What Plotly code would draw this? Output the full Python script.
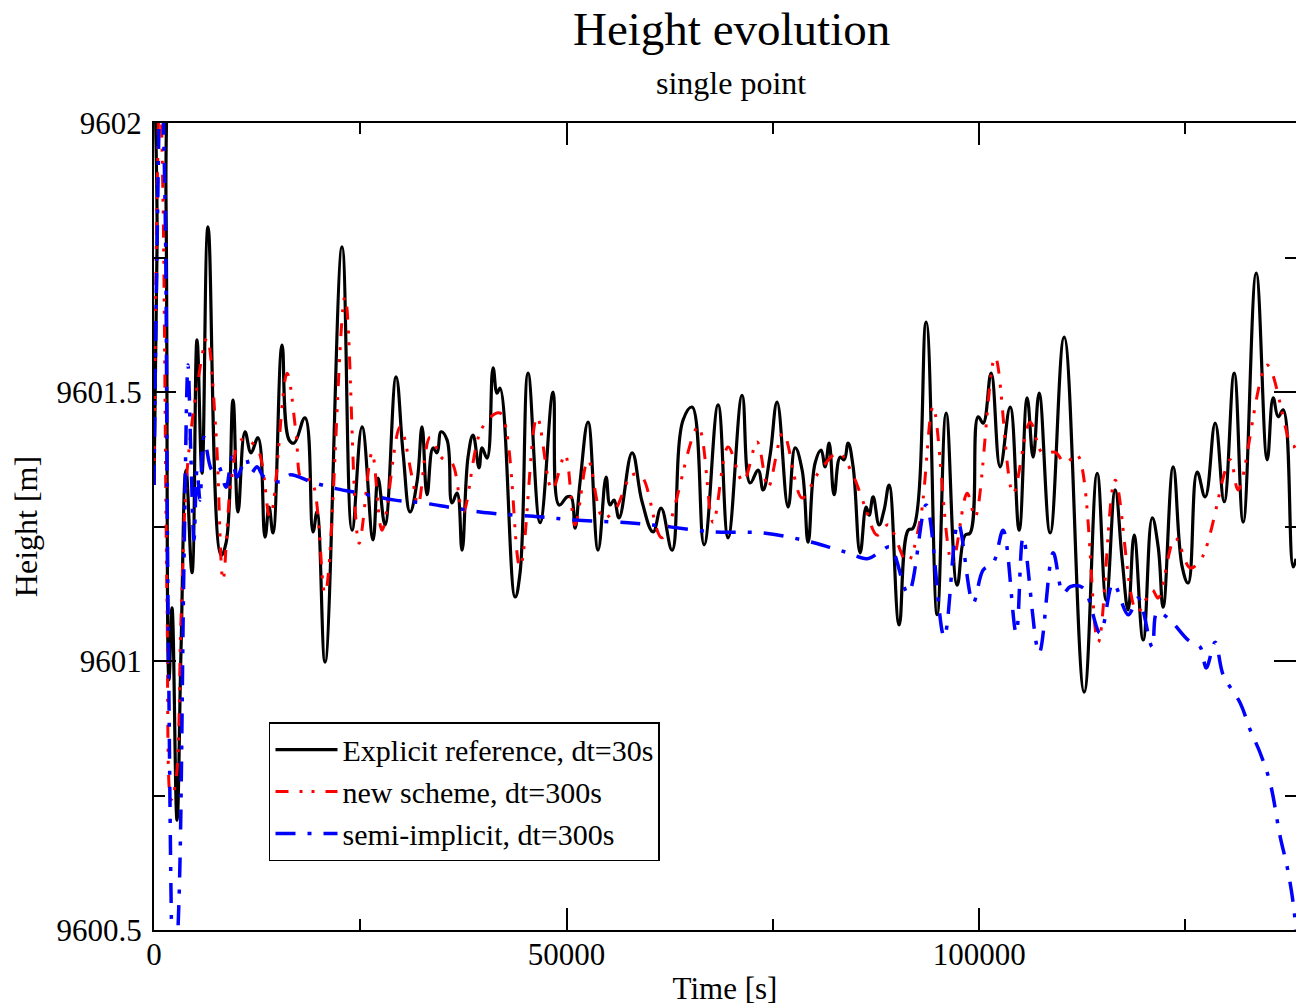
import plotly.graph_objects as go

# ---- data (time in s, height in m) ----
t_ref = [0, 364, 727, 1091, 1455, 1818, 2182, 2788, 3273, 3879, 4606, 5212, 5818, 6545, 8121, 8727, 9576, 10182,
         11030, 11757, 12606, 13454, 13939, 14424, 15515, 16363, 16969, 18303, 19272, 19757, 20727, 22788, 24000,
         25212, 26545, 27151, 28000, 29333, 30182, 31030, 31878, 32485, 33091, 33818, 34303, 34788, 35515, 36121,
         36727, 37333, 38060, 38667, 39394, 39757, 40363, 41091, 41576, 41939, 43757, 44363, 45333, 46788, 48363,
         49091, 50060, 50545, 51030, 51636, 52606, 53818, 54788, 55273, 55757, 56363, 57939, 59151, 60485, 61454,
         62788, 64121, 65212, 66667, 68363, 69576, 71273, 72242, 73212, 73818, 74667, 75515, 76848, 77697, 78545,
         79273, 80121, 80848, 81333, 81818, 82424, 83151, 83636, 84121, 84727, 85576, 86303, 86667, 87151, 87879,
         88485, 89091, 90303, 91394, 92000, 93576, 94909, 96000, 97333, 98303, 98909, 99879, 100485, 101454,
         102545, 103757, 104848, 105818, 106545, 107272, 108606, 110303, 112727, 114303, 115394, 116485, 117333,
         118060, 118788, 119879, 120970, 121697, 122303, 123515, 124606, 125333, 126424, 127394, 128606, 129697,
         130909, 132000, 133576, 134909, 135636, 136242, 136848, 138060, 138400]
h_ref = [9601.327, 9601.764, 9602.2, 9602.2, 9601.857, 9600.965, 9601.099, 9600.704, 9601.02, 9601.355, 9601.164,
         9601.597, 9601.349, 9601.807, 9601.197, 9601.219, 9601.485, 9601.277, 9601.426, 9601.387, 9601.415,
         9601.230, 9601.286, 9601.238, 9601.587, 9601.411, 9601.405, 9601.452, 9601.240, 9601.277, 9600.998,
         9601.770, 9601.243, 9601.435, 9601.225, 9601.340, 9601.253, 9601.528, 9601.387, 9601.277, 9601.333,
         9601.435, 9601.309, 9601.396, 9601.387, 9601.426, 9601.411, 9601.294, 9601.312, 9601.206, 9601.379,
         9601.420, 9601.359, 9601.396, 9601.377, 9601.545, 9601.498, 9601.507, 9601.119, 9601.164, 9601.535,
         9601.257, 9601.500, 9601.290, 9601.305, 9601.305, 9601.247, 9601.333, 9601.444, 9601.206, 9601.342,
         9601.290, 9601.299, 9601.266, 9601.387, 9601.296, 9601.240, 9601.284, 9601.206, 9601.448, 9601.472,
         9601.216, 9601.476, 9601.229, 9601.494, 9601.331, 9601.355, 9601.318, 9601.383, 9601.481, 9601.286,
         9601.396, 9601.355, 9601.221, 9601.368, 9601.392, 9601.361, 9601.405, 9601.309, 9601.379, 9601.374,
         9601.405, 9601.361, 9601.201, 9601.286, 9601.271, 9601.305, 9601.253, 9601.281, 9601.327, 9601.067,
         9601.243, 9601.247, 9601.630, 9601.086, 9601.461, 9601.141, 9601.234, 9601.238, 9601.454, 9601.442,
         9601.535, 9601.361, 9601.472, 9601.243, 9601.489, 9601.379, 9601.498, 9601.238, 9601.602, 9600.942,
         9601.349, 9601.113, 9601.318, 9601.188, 9601.095, 9601.234, 9601.039, 9601.266, 9601.212, 9601.100,
         9601.361, 9601.175, 9601.145, 9601.351, 9601.305, 9601.442, 9601.296, 9601.535, 9601.258, 9601.721,
         9601.374, 9601.489, 9601.454, 9601.467, 9601.175, 9601.19]

t_new = [0, 364, 727, 1091, 1576, 2061, 2667, 3273, 4000, 5212, 6424, 7515, 8364, 9333, 10545, 12485, 14060,
         16121, 17212, 17939, 19030, 20727, 23151, 24848, 26424, 27636, 29818, 31273, 32000, 33455, 34909, 36121,
         37454, 39757, 41939, 44363, 46424, 48242, 49818, 51030, 52606, 54424, 55879, 57939, 59151, 61576, 65939,
         67757, 69576, 71394, 73091, 74424, 76242, 78545, 80485, 82909, 84606, 86182, 87636, 88970, 91273, 92848,
         94424, 96727, 98545, 99515, 101939, 104121, 106181, 107636, 109212, 110424, 111879, 114424, 116485,
         119151, 120970, 121697, 123757, 125576, 127030, 130424, 131394, 134909, 137939, 138400]
h_new = [9601.327, 9601.857, 9602.080, 9601.857, 9601.113, 9600.742, 9600.779, 9601.076, 9601.351, 9601.509,
         9601.600, 9601.424, 9601.151, 9601.331, 9601.411, 9601.396, 9601.268, 9601.535, 9601.424, 9601.336,
         9601.336, 9601.126, 9601.677, 9601.219, 9601.387, 9601.243, 9601.435, 9601.342, 9601.290, 9601.416,
         9601.377, 9601.368, 9601.277, 9601.433, 9601.461, 9601.175, 9601.454, 9601.318, 9601.383, 9601.253,
         9601.374, 9601.266, 9601.281, 9601.346, 9601.342, 9601.229, 9601.435, 9601.258, 9601.398, 9601.333,
         9601.407, 9601.323, 9601.424, 9601.303, 9601.349, 9601.387, 9601.349, 9601.286, 9601.234, 9601.253,
         9601.184, 9601.262, 9601.472, 9601.182, 9601.312, 9601.268, 9601.565, 9601.312, 9601.444, 9601.387,
         9601.388, 9601.368, 9601.383, 9601.035, 9601.336, 9601.091, 9601.132, 9601.117, 9601.229, 9601.173,
         9601.193, 9601.374, 9601.318, 9601.550, 9601.398, 9601.401]

t_semi = [0, 364, 848, 1333, 1697, 2424, 3030, 3636, 4121, 4485, 4848, 5212, 5576, 6061, 7030, 7758, 8727, 9454,
          10061, 11151, 11757, 12485, 13333, 15515, 16485, 19030, 22182, 24970, 29212, 32485, 36485, 40727, 46788,
          51030, 57454, 61576, 67757, 73818, 79151, 82182, 84121, 86424, 88000, 89212, 91394, 93576, 95758, 97454,
          99273, 100485, 101697, 102909, 104485, 105333, 107272, 108970, 110182, 111030, 112606, 114667, 116242,
          118060, 119273, 120970, 121576, 123151, 125333, 126788, 127515, 128606, 129576, 131636, 132848, 134060,
          135273, 136485, 137333, 138060, 138400]
h_semi = [9601.327, 9601.764, 9602.117, 9601.857, 9601.113, 9600.370, 9600.556, 9601.188, 9601.550, 9601.374,
          9601.225, 9601.355, 9601.299, 9601.416, 9601.355, 9601.364, 9601.323, 9601.379, 9601.342, 9601.377,
          9601.349, 9601.361, 9601.342, 9601.333, 9601.346, 9601.333, 9601.320, 9601.312, 9601.299, 9601.294,
          9601.284, 9601.275, 9601.268, 9601.262, 9601.257, 9601.251, 9601.240, 9601.238, 9601.223, 9601.210,
          9601.201, 9601.190, 9601.203, 9601.212, 9601.126, 9601.290, 9601.045, 9601.257, 9601.108, 9601.169,
          9601.182, 9601.243, 9601.052, 9601.230, 9601.015, 9601.201, 9601.126, 9601.138, 9601.136, 9601.052,
          9601.145, 9601.086, 9601.117, 9601.026, 9601.091, 9601.076, 9601.039, 9601.026, 9600.987, 9601.035,
          9600.974, 9600.922, 9600.872, 9600.829, 9600.773, 9600.673, 9600.617, 9600.550, 9600.50]

assert len(t_ref) == len(h_ref), (len(t_ref), len(h_ref))
assert len(t_new) == len(h_new), (len(t_new), len(h_new))
assert len(t_semi) == len(h_semi), (len(t_semi), len(h_semi))

x_ticks = [0, 50000, 100000]
x_ticklabels = ["0", "50000", "100000"]
y_ticks = [9600.5, 9601, 9601.5, 9602]
y_ticklabels = ["9600.5", "9601", "9601.5", "9602"]

FONT = "Liberation Serif, Times New Roman, serif"

fig = go.Figure()
fig.add_trace(go.Scatter(x=t_ref, y=h_ref, mode="lines", name="Explicit reference, dt=30s",
                         line=dict(color="#000000", width=3.2, shape="spline", smoothing=1.2)))
fig.add_trace(go.Scatter(x=t_new, y=h_new, mode="lines", name="new scheme, dt=300s",
                         line=dict(color="#ff0000", width=3, shape="spline", smoothing=1.0,
                                   dash="13px,11px,3px,9px,3px,11px")))
fig.add_trace(go.Scatter(x=t_semi, y=h_semi, mode="lines", name="semi-implicit, dt=300s",
                         line=dict(color="#0000ff", width=3.5, shape="spline", smoothing=1.0,
                                   dash="20px,12px,4px,12px")))

axis_common = dict(showline=True, linecolor="black", linewidth=2, mirror="ticks",
                   ticks="inside", ticklen=22, tickwidth=1.5, tickcolor="black",
                   showgrid=False, zeroline=False,
                   tickfont=dict(family=FONT, size=31, color="black"))

fig.update_xaxes(range=[0, 138400], tickvals=x_ticks, ticktext=x_ticklabels,
                 minor=dict(ticks="inside", ticklen=11, tickwidth=1.5, tickcolor="black", dtick=25000, tick0=0),
                 ticklabelstandoff=-4,
                 title=dict(text="Time [s]", font=dict(family=FONT, size=31, color="black"), standoff=6),
                 **axis_common)
fig.update_yaxes(range=[9600.5, 9602], tickvals=y_ticks, ticktext=y_ticklabels,
                 minor=dict(ticks="inside", ticklen=11, tickwidth=1.5, tickcolor="black", dtick=0.25, tick0=9600.5),
                 ticklabelstandoff=4,
                 title=dict(text="Height [m]", font=dict(family=FONT, size=32, color="black"), standoff=9),
                 **axis_common)

fig.update_layout(
    width=1296, height=1007,
    margin=dict(l=154, r=0, t=123, b=77, autoexpand=False),
    plot_bgcolor="white", paper_bgcolor="white",
    font=dict(family=FONT, color="black"),
    showlegend=True,
    legend=dict(x=0.1007, y=0.2577, xanchor="left", yanchor="top",
                bgcolor="white", bordercolor="black", borderwidth=1.5,
                font=dict(family=FONT, size=30, color="black"),
                itemwidth=62, tracegroupgap=0),
    annotations=[
        dict(text="Height evolution", xref="paper", yref="paper", x=0.5053, y=1.1165,
             xanchor="center", yanchor="middle", showarrow=False,
             font=dict(family=FONT, size=47, color="black")),
        dict(text="single point", xref="paper", yref="paper", x=0.5053, y=1.0496,
             xanchor="center", yanchor="middle", showarrow=False,
             font=dict(family=FONT, size=32, color="black")),
    ],
)

# remove the default page margin so the figure fills the window exactly
fig.write_html("out.html", config={"displayModeBar": False},
               post_script="document.body.style.margin='0';document.body.style.overflow='hidden';")
